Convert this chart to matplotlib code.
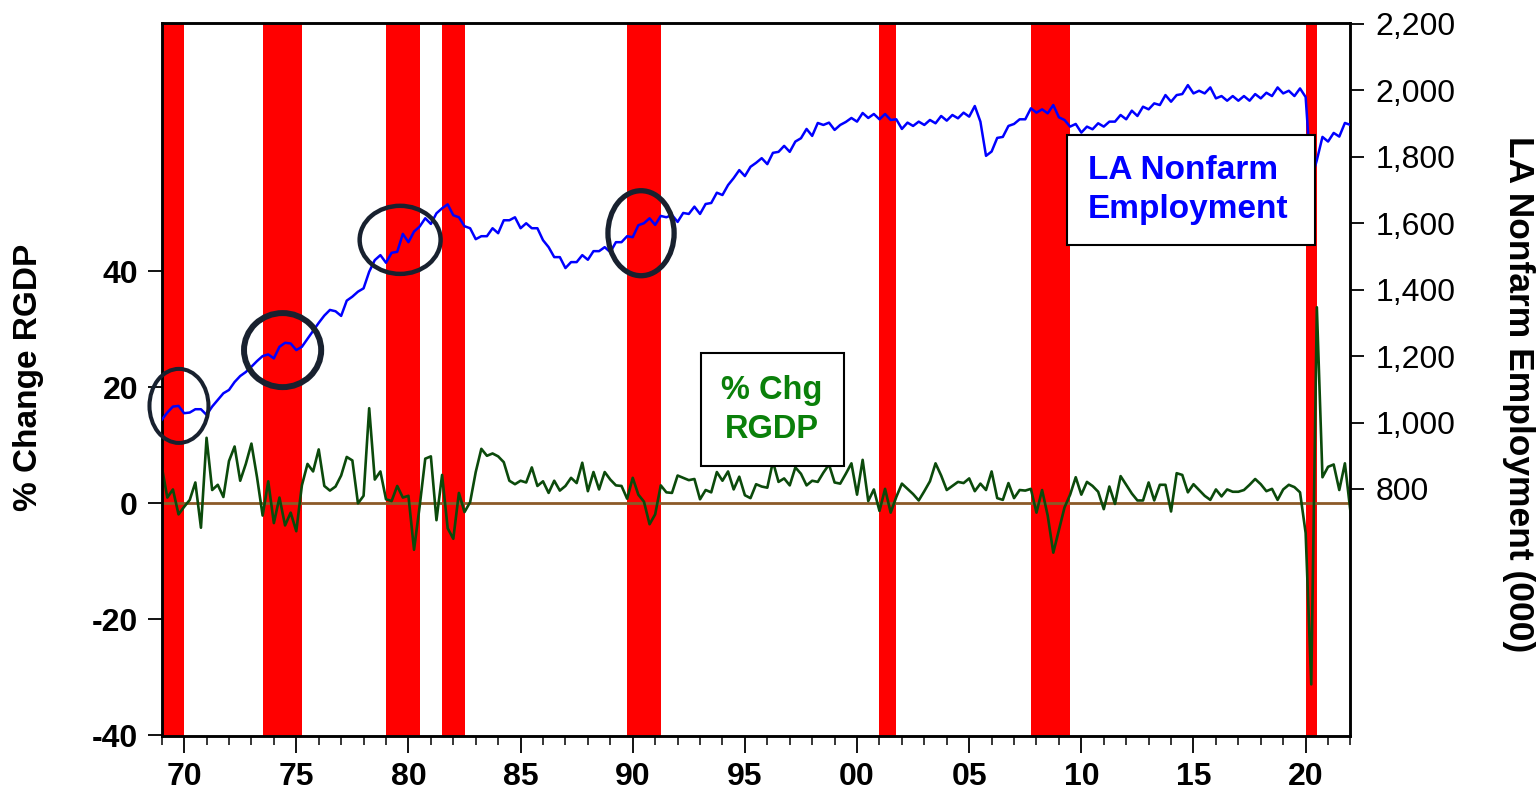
import numpy as np
import pandas as pd
import matplotlib
matplotlib.use("Agg")
import matplotlib.pyplot as plt
from matplotlib.patches import Ellipse, Rectangle
from matplotlib.ticker import FixedLocator, FuncFormatter

plt.rcParams['font.family'] = ['Liberation Sans', 'DejaVu Sans']
plt.rcParams['axes.unicode_minus'] = False

# ---------------- data ----------------
start_q, end_q = "1969Q1", "2022Q1"

# US real GDP, % change (annualized), quarterly 1969Q1..2022Q1
rgdp_chg = [
    6.4, 1.0, 2.4, -1.9,    # 1969
    -0.6, 0.6, 3.6, -4.2,   # 1970
    11.3, 2.3, 3.2, 1.1,    # 1971
    7.3, 9.8, 3.9, 6.8,     # 1972
    10.3, 4.5, -2.1, 3.8,   # 1973
    -3.4, 1.0, -3.8, -1.6,  # 1974
    -4.8, 3.1, 6.8, 5.5,    # 1975
    9.3, 3.0, 2.2, 2.9,     # 1976
    4.8, 8.0, 7.4, 0.0,     # 1977
    1.3, 16.4, 4.1, 5.5,    # 1978
    0.7, 0.4, 3.0, 1.0,     # 1979
    1.3, -8.0, -0.5, 7.7,   # 1980
    8.1, -2.9, 4.9, -4.3,   # 1981
    -6.1, 1.8, -1.5, 0.2,   # 1982
    5.4, 9.4, 8.2, 8.6,     # 1983
    8.1, 7.1, 3.9, 3.3,     # 1984
    3.9, 3.6, 6.2, 3.0,     # 1985
    3.8, 1.8, 3.9, 2.2,     # 1986
    3.0, 4.4, 3.5, 7.0,     # 1987
    2.1, 5.4, 2.4, 5.4,     # 1988
    4.1, 3.1, 3.0, 0.8,     # 1989
    4.4, 1.5, 0.3, -3.6,    # 1990
    -1.9, 3.1, 1.9, 1.8,    # 1991
    4.8, 4.4, 4.0, 4.2,     # 1992
    0.7, 2.3, 1.9, 5.4,     # 1993
    3.9, 5.5, 2.4, 4.6,     # 1994
    1.4, 0.9, 3.3, 2.9,     # 1995
    2.7, 7.2, 3.7, 4.3,     # 1996
    3.1, 6.2, 5.1, 3.1,     # 1997
    3.9, 3.7, 5.3, 6.7,     # 1998
    3.6, 3.4, 5.1, 6.9,     # 1999
    1.5, 7.5, 0.4, 2.4,     # 2000
    -1.3, 2.5, -1.6, 1.1,   # 2001
    3.4, 2.5, 1.6, 0.5,     # 2002
    2.1, 3.8, 6.9, 4.8,     # 2003
    2.3, 3.0, 3.7, 3.5,     # 2004
    4.3, 2.1, 3.4, 2.3,     # 2005
    5.5, 0.9, 0.6, 3.5,     # 2006
    0.9, 2.3, 2.2, 2.5,     # 2007
    -1.6, 2.3, -2.1, -8.5,  # 2008
    -4.6, -0.7, 1.5, 4.5,   # 2009
    1.5, 3.7, 3.0, 2.0,     # 2010
    -1.0, 2.9, -0.1, 4.7,   # 2011
    3.2, 1.7, 0.5, 0.5,     # 2012
    3.6, 0.5, 3.2, 3.2,     # 2013
    -1.4, 5.2, 4.9, 1.9,    # 2014
    3.3, 2.3, 1.3, 0.6,     # 2015
    2.4, 1.2, 2.4, 2.0,     # 2016
    2.0, 2.3, 3.2, 4.2,     # 2017
    3.3, 2.1, 2.5, 0.6,     # 2018
    2.4, 3.2, 2.8, 1.9,     # 2019
    -5.1, -31.2, 33.8, 4.5, # 2020
    6.3, 6.7, 2.3, 6.9,     # 2021
    -1.5,                   # 2022Q1
]

# Louisiana nonfarm employment (000), quarterly 1969Q1..2022Q1
la_nonfarm = [
    1008, 1030, 1048, 1050,  # 1969
    1028, 1030, 1040, 1040,  # 1970
    1023, 1048, 1068, 1088,  # 1971
    1098, 1122, 1140, 1152,  # 1972
    1168, 1185, 1200, 1205,  # 1973
    1193, 1228, 1240, 1238,  # 1974
    1218, 1228, 1252, 1276,  # 1975
    1300, 1322, 1339, 1335,  # 1976
    1321, 1367, 1379, 1394,  # 1977
    1404, 1454, 1489, 1504,  # 1978
    1481, 1511, 1514, 1568,  # 1979
    1543, 1575, 1590, 1615,  # 1980
    1598, 1630, 1645, 1657,  # 1981
    1624, 1618, 1591, 1585,  # 1982
    1552, 1561, 1561, 1585,  # 1983
    1570, 1609, 1609, 1618,  # 1984
    1585, 1600, 1585, 1585,  # 1985
    1549, 1528, 1498, 1498,  # 1986
    1465, 1483, 1483, 1504,  # 1987
    1490, 1516, 1516, 1528,  # 1988
    1513, 1543, 1543, 1561,  # 1989
    1558, 1594, 1600, 1615,  # 1990
    1595, 1622, 1618, 1625,  # 1991
    1604, 1631, 1628, 1650,  # 1992
    1628, 1658, 1661, 1692,  # 1993
    1685, 1715, 1736, 1760,  # 1994
    1742, 1770, 1782, 1796,  # 1995
    1778, 1812, 1815, 1833,  # 1996
    1815, 1846, 1856, 1884,  # 1997
    1863, 1902, 1896, 1903,  # 1998
    1881, 1896, 1905, 1917,  # 1999
    1906, 1932, 1917, 1929,  # 2000
    1913, 1929, 1911, 1913,  # 2001
    1884, 1903, 1893, 1906,  # 2002
    1896, 1911, 1901, 1923,  # 2003
    1909, 1926, 1916, 1933,  # 2004
    1921, 1953, 1906, 1803,  # 2005
    1816, 1857, 1860, 1893,  # 2006
    1899, 1913, 1913, 1946,  # 2007
    1933, 1943, 1931, 1956,  # 2008
    1919, 1911, 1891, 1899,  # 2009
    1873, 1891, 1883, 1901,  # 2010
    1891, 1906, 1906, 1926,  # 2011
    1913, 1939, 1923, 1951,  # 2012
    1943, 1961, 1956, 1986,  # 2013
    1966, 1986, 1989, 2016,  # 2014
    1991, 1999, 1991, 2009,  # 2015
    1976, 1983, 1969, 1983,  # 2016
    1969, 1983, 1969, 1989,  # 2017
    1976, 1993, 1983, 2009,  # 2018
    1991, 1999, 1983, 2006,  # 2019
    1980, 1730, 1790, 1860,  # 2020
    1846, 1872, 1861, 1902,  # 2021
    1896,                    # 2022Q1
]

# shaded recession periods (start, end) in years
recessions = [(1969.0, 1970.0), (1973.5, 1975.25), (1979.0, 1980.5),
              (1981.5, 1982.5), (1989.75, 1991.25), (2001.0, 2001.75),
              (2007.75, 2009.5), (2020.0, 2020.5)]

# highlighted spots on employment line: (year, employment, width_yrs, height, lw)
highlights = [(1969.77, 1050, 2.63, 223, 2.9),
              (1974.39, 1218, 3.44, 223, 4.3),
              (1979.63, 1550, 3.61, 205, 3.2),
              (1990.37, 1570, 2.95, 256, 3.8)]

x_major = [1970, 1975, 1980, 1985, 1990, 1995, 2000, 2005, 2010, 2015, 2020]
x_labels = ["70", "75", "80", "85", "90", "95", "00", "05", "10", "15", "20"]
left_ticks = [-40, -20, 0, 20, 40]
right_ticks = [800, 1000, 1200, 1400, 1600, 1800, 2000, 2200]

# ---------------- figure ----------------
periods = pd.period_range(start_q, end_q, freq="Q")
t = periods.year + (periods.quarter - 1) / 4.0

W, H, DPI = 1538, 792, 100
fig = plt.figure(figsize=(W / DPI, H / DPI), dpi=DPI)
ax = fig.add_axes([161.7 / W, (H - 736) / H, (1350.5 - 161.7) / W, (736 - 23) / H])
ax2 = ax.twinx()

for a, b in recessions:
    ax.axvspan(a, b, color="#ff0000", lw=0, zorder=0)

ax.axhline(0, color="#8c5a28", lw=2.0, zorder=2)
ax.plot(t, rgdp_chg, color="#0b4a0b", lw=1.9, zorder=3)
ax2.plot(t, la_nonfarm, color="#0000ff", lw=1.8, zorder=3)

for cx, cy, w, h, lw in highlights:
    ax2.add_patch(Ellipse((cx, cy), w, h, fill=False, ec="#18212f", lw=lw,
                          zorder=5, clip_on=False))

ax.set_xlim(1969.0, 2022.0)
ax.set_ylim(-40.1, 82.8)
ax2.set_ylim(56, 2203)

ax.xaxis.set_major_locator(FixedLocator(x_major))
ax.set_xticklabels(x_labels)
ax.xaxis.set_minor_locator(FixedLocator(np.arange(1969, 2023)))
ax.yaxis.set_major_locator(FixedLocator(left_ticks))
ax2.yaxis.set_major_locator(FixedLocator(right_ticks))
ax2.yaxis.set_major_formatter(FuncFormatter(lambda v, p: f"{int(v):,}"))

ax.tick_params(axis="x", which="major", length=12, width=1.3, pad=7, labelsize=23, direction="out")
ax.tick_params(axis="x", which="minor", length=6.5, width=1.1, direction="out")
ax.tick_params(axis="y", length=10, width=1.3, pad=7, labelsize=23, direction="out")
ax2.tick_params(axis="y", length=10, width=1.3, pad=8, labelsize=23, direction="out")
for lab in ax.get_xticklabels() + ax.get_yticklabels():
    lab.set_fontweight("bold")

for a in (ax, ax2):
    for s in a.spines.values():
        s.set_linewidth(1.8)
        s.set_color("black")

ax.set_ylabel("% Change RGDP", fontsize=24, fontweight="bold", va="center")
ax.yaxis.set_label_coords((28 - 161.7) / 1188.8, (736 - 377) / 713)
ax2.set_ylabel("LA Nonfarm Employment (000)", fontsize=25.5, fontweight="bold",
               rotation=270, va="center")
ax2.yaxis.set_label_coords((1519 - 161.7) / 1188.8, (736 - 394) / 713)

# text boxes
def box(x0, x1, y_top, y_bot):
    X0 = (x0 - 161.7) / 1188.8
    X1 = (x1 - 161.7) / 1188.8
    Y0 = (736 - y_bot) / 713
    Y1 = (736 - y_top) / 713
    ax2.add_patch(Rectangle((X0, Y0), X1 - X0, Y1 - Y0, transform=ax2.transAxes,
                            facecolor="white", edgecolor="black", lw=1.5, zorder=6))

box(700.7, 844.3, 353, 466)
ax2.text((772 - 161.7) / 1188.8, (736 - 410) / 713, "% Chg\nRGDP", transform=ax2.transAxes,
         ha="center", va="center", fontsize=23.5, fontweight="bold", color="#0a800a",
         linespacing=1.3, zorder=7)

box(1067, 1315, 135, 245)
ax2.text((1087.6 - 161.7) / 1188.8, (736 - 190) / 713, "LA Nonfarm\nEmployment",
         transform=ax2.transAxes, ha="left", va="center", fontsize=24, fontweight="bold",
         color="#0000ff", linespacing=1.3, zorder=7)

fig.savefig("out.png", dpi=DPI)
